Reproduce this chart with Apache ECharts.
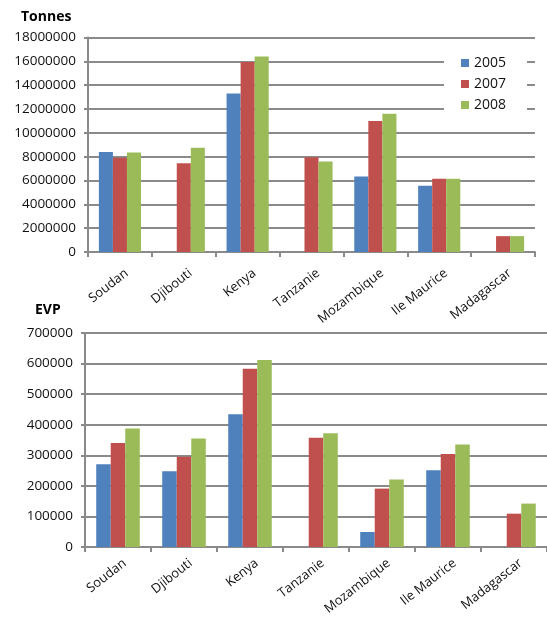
<!DOCTYPE html>
<html lang="fr">
<head>
    <meta charset="UTF-8"/>
    <title>Tonnes et EVP</title>
    <script src="https://cdn.jsdelivr.net/npm/echarts@6/dist/echarts.min.js"></script>
    <style>
        html, body { margin: 0; padding: 0; background: #fff; }
        #tx { width: 547px; height: 618px; }
    </style>
</head>
<body>
<div id="tx"></div>
<script type="text/javascript">
    // categories and values
    var categories = ['Soudan', 'Djibouti', 'Kenya', 'Tanzanie', 'Mozambique', 'Ile Maurice', 'Madagascar'];
    var years = ['2005', '2007', '2008'];

    var tonnes2005 = [8400000, null, 13300000, null, 6330000, 5550000, null];
    var tonnes2007 = [7900000, 7450000, 15950000, 7950000, 11000000, 6150000, 1330000];
    var tonnes2008 = [8350000, 8750000, 16400000, 7600000, 11600000, 6150000, 1330000];

    var evp2005 = [271000, 248000, 434000, null, 49000, 251000, null];
    var evp2007 = [340000, 295000, 583000, 357000, 191000, 304000, 109000];
    var evp2008 = [388000, 355000, 612000, 372000, 221000, 335000, 142000];

    var colors = ['#4f81bd', '#c0504d', '#9bbb59'];
    var gridGrey = '#8a8a8a';
    var font = 'Open Sans';

    function xAxisOf(gridIndex, labelMargin) {
        return {
            type: 'category',
            gridIndex: gridIndex,
            data: categories,
            axisLine: {lineStyle: {color: gridGrey, width: 2}},
            axisTick: {show: true, length: 5, lineStyle: {color: gridGrey, width: 2}},
            axisLabel: {
                interval: 0,
                rotate: 38,
                margin: labelMargin,
                // push the slanted names a bit to the right of the tick centre
                verticalAlign: 'top',
                lineHeight: 22,
                color: '#111',
                fontFamily: font,
                fontSize: 13
            }
        };
    }

    function yAxisOf(gridIndex, max, step) {
        return {
            type: 'value',
            gridIndex: gridIndex,
            min: 0,
            max: max,
            interval: step,
            axisLine: {show: true, lineStyle: {color: gridGrey, width: 2}},
            axisTick: {show: true, length: 4, lineStyle: {color: gridGrey, width: 2}},
            splitLine: {lineStyle: {color: gridGrey, width: 2}},
            axisLabel: {
                margin: 12,
                color: '#111',
                fontFamily: font,
                fontSize: 13.5,
                // no thousands separators, like the original
                formatter: function (v) { return String(v); }
            }
        };
    }

    function barSeries(name, data, i, axisIndex) {
        return {
            name: name,
            type: 'bar',
            xAxisIndex: axisIndex,
            yAxisIndex: axisIndex,
            data: data,
            barGap: '0%',
            barCategoryGap: '34%',
            itemStyle: {color: colors[i]}
        };
    }

    var myChart = echarts.init(document.getElementById('tx'), null, {renderer: 'canvas'});

    var option = {
        animation: false,
        backgroundColor: '#fff',
        color: colors,
        // fixed plot boxes, labels may run to the edge of the picture
        grid: [
            {left: 88, right: 12, top: 37.5, height: 214.5, outerBoundsMode: 'none'},
            {left: 85, right: 0, top: 333, height: 214, outerBoundsMode: 'none'}
        ],
        xAxis: [xAxisOf(0, 11), xAxisOf(1, 6)],
        yAxis: [yAxisOf(0, 18000000, 2000000), yAxisOf(1, 700000, 100000)],
        legend: {
            data: years,
            orient: 'vertical',
            left: 444,
            top: 48,
            backgroundColor: '#fff',
            padding: [8, 21, 8, 17],
            itemWidth: 8,
            itemHeight: 8,
            itemGap: 7,
            icon: 'rect',
            textStyle: {color: '#111', fontFamily: font, fontSize: 14, lineHeight: 14}
        },
        graphic: [
            {type: 'text', left: 21, top: 10, style: {text: 'Tonnes', font: 'bold 14px "Open Sans"', fill: '#000'}},
            {type: 'text', left: 35, top: 303, style: {text: 'EVP', font: 'bold 14px "Open Sans"', fill: '#000'}}
        ],
        series: [
            barSeries(years[0], tonnes2005, 0, 0),
            barSeries(years[1], tonnes2007, 1, 0),
            barSeries(years[2], tonnes2008, 2, 0),
            barSeries(years[0], evp2005, 0, 1),
            barSeries(years[1], evp2007, 1, 1),
            barSeries(years[2], evp2008, 2, 1)
        ]
    };

    myChart.setOption(option);
</script>
</body>
</html>
